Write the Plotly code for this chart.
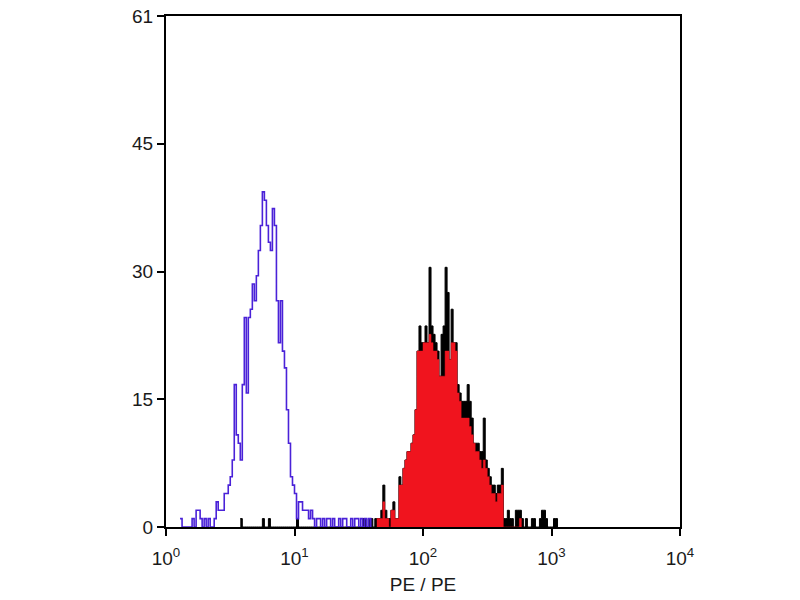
import plotly.graph_objects as go

# ---- data (CellQuest-style 256 channels over 4 decades; counts per channel) ----
CHANNELS_PER_DECADE = 64

purple_channels = [7, 13, 15, 16, 17, 19, 21, 24, 25, 26, 27, 28, 29, 30, 31, 32, 33, 34, 35, 36,
                   37, 38, 39, 40, 41, 42, 43, 44, 45, 46, 47, 48, 49, 50, 51, 52, 53, 54, 55, 56,
                   57, 58, 59, 60, 61, 62, 63, 64, 65, 66, 67, 68, 69, 70, 71, 72, 73, 75, 76, 78,
                   80, 81, 83, 86, 88, 89, 92, 94, 95, 97, 99, 101]
purple_counts = [1, 1, 2, 2, 1, 1, 1, 1, 3, 2, 2, 2, 4, 4, 5, 6, 8, 17, 11, 10,
                 8, 17, 25, 16, 25, 26, 29, 27, 30, 33, 36, 40, 39, 36, 34, 33, 38, 36, 27, 22,
                 27, 21, 19, 14, 10, 6, 5, 4, 1, 3, 3, 2, 2, 2, 1, 2, 1, 1, 1, 1,
                 1, 1, 1, 1, 1, 1, 1, 1, 1, 1, 1, 1]

black_channels = [37, 48, 51, 65, 98, 99, 101, 102, 104, 105, 106, 107, 108, 109, 110, 111, 112, 113,
                  114, 115, 116, 117, 118, 119, 120, 121, 122, 123, 124, 125, 126, 127, 128, 129,
                  130, 131, 132, 133, 134, 135, 136, 137, 138, 139, 140, 141, 142, 143, 144, 145,
                  146, 147, 148, 149, 150, 151, 152, 153, 154, 155, 156, 157, 158, 159, 160, 161,
                  162, 163, 164, 165, 166, 167, 168, 169, 170, 171, 172, 174, 175, 176, 177, 179,
                  182, 183, 186, 187, 188, 189, 193, 194]
black_counts = [1, 1, 1, 1, 1, 1, 1, 1, 1, 1, 1, 2, 5, 2, 1, 1, 2, 3,
                1, 1, 6, 5, 7, 8, 9, 9, 10, 11, 14, 21, 24, 22, 22, 24,
                22, 31, 24, 23, 22, 21, 18, 23, 24, 31, 28, 20, 26, 22, 22, 17,
                16, 15, 15, 15, 17, 15, 13, 10, 10, 10, 9, 9, 13, 8, 7, 6,
                5, 5, 4, 5, 5, 7, 1, 1, 2, 1, 1, 2, 2, 2, 1, 1,
                1, 1, 1, 2, 2, 1, 1, 1]

red_channels = [105, 106, 107, 108, 109, 110, 112, 113, 114, 115, 116, 117, 118, 119, 120, 121,
                122, 123, 124, 125, 126, 127, 128, 129, 130, 131, 132, 133, 134, 135, 136, 137,
                138, 139, 140, 141, 142, 143, 144, 145, 146, 147, 148, 149, 150, 151, 152, 153,
                154, 155, 156, 157, 158, 159, 160, 161, 162, 163, 164, 165, 166, 167, 176]
red_counts = [1, 1, 1, 3, 1, 1, 2, 2, 1, 1, 5, 5, 7, 8, 9, 9,
              10, 11, 14, 21, 21, 21, 22, 22, 22, 23, 22, 21, 21, 20, 18, 18,
              18, 21, 21, 20, 22, 22, 21, 16, 15, 13, 13, 13, 13, 12, 11, 10,
              9, 9, 8, 7, 8, 7, 6, 5, 4, 4, 3, 4, 4, 5, 1]

y_tick_values = [0, 15.25, 30.5, 45.75, 61]
y_tick_labels = ["0", "15", "30", "45", "61"]
x_tick_values = [1, 10, 100, 1000, 10000]
x_tick_labels = ["10<sup>0</sup>", "10<sup>1</sup>", "10<sup>2</sup>", "10<sup>3</sup>", "10<sup>4</sup>"]
y_max = 61


def step_xy(channels, counts):
    """Dense step outline over channel edges from sparse channel/count lists."""
    lookup = dict(zip(channels, counts))
    lo, hi = min(channels), max(channels)
    xs, ys = [], []
    for ch in range(lo, hi + 1):
        xs.append(10 ** (ch / CHANNELS_PER_DECADE))
        ys.append(lookup.get(ch, 0))
    xs.append(10 ** ((hi + 1) / CHANNELS_PER_DECADE))
    ys.append(0)
    return xs, ys


fig = go.Figure()

bx, by = step_xy(black_channels, black_counts)
fig.add_trace(go.Scatter(x=bx, y=by, mode="lines", line=dict(shape="hv", color="#000000", width=1),
                         fill="tozeroy", fillcolor="#000000", showlegend=False))

rx, ry = step_xy(red_channels, red_counts)
fig.add_trace(go.Scatter(x=rx, y=ry, mode="lines", line=dict(shape="hv", color="#ee1420", width=0.5),
                         fill="tozeroy", fillcolor="#f0141e", showlegend=False))

px_, py_ = step_xy(purple_channels, purple_counts)
fig.add_trace(go.Scatter(x=px_, y=py_, mode="lines", line=dict(shape="hv", color="#4a22d8", width=1.6),
                         showlegend=False))

FONT = "Liberation Sans, Arial, sans-serif"
axis_font = dict(family=FONT, size=19, color="#1a1a1a")

fig.update_layout(
    width=800, height=600,
    margin=dict(l=158, r=128, t=8, b=81, autoexpand=False),
    paper_bgcolor="white", plot_bgcolor="white",
    xaxis=dict(type="log", range=[0, 4], tickvals=x_tick_values, ticktext=x_tick_labels,
               showgrid=False, zeroline=False, showline=True, linecolor="black", linewidth=2,
               mirror=True, ticks="outside", ticklen=7, tickwidth=2, tickcolor="black",
               tickfont=axis_font, ticklabelstandoff=6, ticklabeloverflow="allow", automargin=False,
               title=dict(text="PE / PE", font=dict(family=FONT, size=19, color="#1a1a1a"), standoff=10)),
    yaxis=dict(range=[0, y_max], tickvals=y_tick_values, ticktext=y_tick_labels,
               showgrid=False, zeroline=False, showline=True, linecolor="black", linewidth=2,
               mirror=True, ticks="outside", ticklen=7, tickwidth=2, tickcolor="black",
               tickfont=axis_font, ticklabeloverflow="allow", automargin=False),
)

fig.write_html("out.html")
